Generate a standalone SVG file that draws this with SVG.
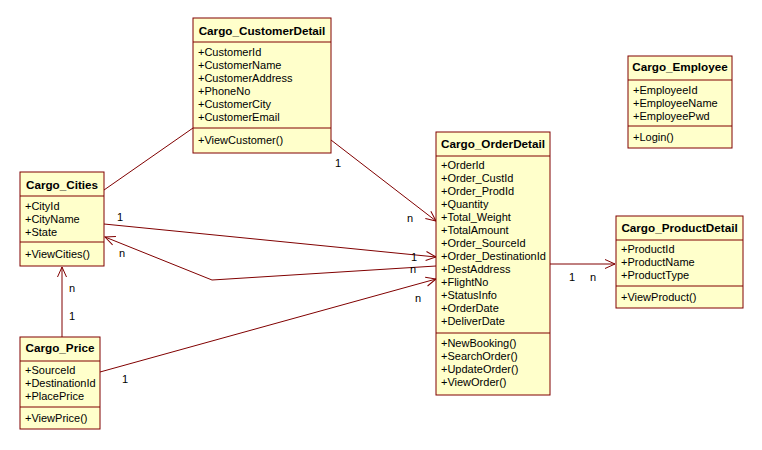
<svg xmlns="http://www.w3.org/2000/svg" width="762" height="450" viewBox="0 0 762 450">
<defs>
<style>
.box{fill:#FFFFCB;stroke:#800000;stroke-width:1}
.sep{stroke:#800000;stroke-width:1}
.t{font-family:"Liberation Sans",Arial,sans-serif;font-size:11.7px;font-weight:bold;fill:#000;text-anchor:middle}
.a{font-family:"Liberation Sans",Arial,sans-serif;font-size:11px;fill:#000}
.c{stroke:#800000;stroke-width:1;fill:none}
.l{font-family:"Liberation Sans",Arial,sans-serif;font-size:11px;fill:#000}
</style>
<marker id="arr" markerUnits="userSpaceOnUse" markerWidth="12" markerHeight="10" refX="10" refY="4.5" orient="auto" overflow="visible">
<path d="M0,0 L10,4.5 L0,9" fill="none" stroke="#800000" stroke-width="1"/>
</marker>
</defs>
<rect width="762" height="450" fill="#fff"/>

<g id="connectors">
<line class="c" x1="331" y1="140" x2="436" y2="221" marker-end="url(#arr)"/>
<line class="c" x1="104" y1="224" x2="436" y2="257" marker-end="url(#arr)"/>
<polyline class="c" points="436,266 212,280 105,237" marker-end="url(#arr)"/>
<line class="c" x1="100" y1="372" x2="436" y2="279" marker-end="url(#arr)"/>
<line class="c" x1="62" y1="337" x2="62" y2="267" marker-end="url(#arr)"/>
<line class="c" x1="104" y1="190" x2="193" y2="128"/>
<line class="c" x1="550" y1="264" x2="615" y2="264" marker-end="url(#arr)"/>
<text class="l" x="335" y="167">1</text>
<text class="l" x="407" y="222">n</text>
<text class="l" x="117" y="221">1</text>
<text class="l" x="411" y="261">1</text>
<text class="l" x="410" y="273">n</text>
<text class="l" x="119" y="257">n</text>
<text class="l" x="415" y="302">n</text>
<text class="l" x="122" y="383">1</text>
<text class="l" x="69" y="292">n</text>
<text class="l" x="69" y="320">1</text>
<text class="l" x="569" y="281">1</text>
<text class="l" x="590" y="281">n</text>
</g>

<g id="Cargo_CustomerDetail">
<rect class="box" x="193" y="18" width="138" height="135"/>
<line class="sep" x1="193" y1="42" x2="331" y2="42"/>
<line class="sep" x1="193" y1="128" x2="331" y2="128"/>
<text class="t" x="262" y="35">Cargo_CustomerDetail</text>
<text class="a" x="198" y="56">+CustomerId</text>
<text class="a" x="198" y="69">+CustomerName</text>
<text class="a" x="198" y="82">+CustomerAddress</text>
<text class="a" x="198" y="95">+PhoneNo</text>
<text class="a" x="198" y="108">+CustomerCity</text>
<text class="a" x="198" y="121">+CustomerEmail</text>
<text class="a" x="198" y="144">+ViewCustomer()</text>
</g>

<g id="Cargo_Employee">
<rect class="box" x="628" y="56" width="104" height="92"/>
<line class="sep" x1="628" y1="80" x2="732" y2="80"/>
<line class="sep" x1="628" y1="126" x2="732" y2="126"/>
<text class="t" x="680" y="71">Cargo_Employee</text>
<text class="a" x="633" y="94">+EmployeeId</text>
<text class="a" x="633" y="107">+EmployeeName</text>
<text class="a" x="633" y="120">+EmployeePwd</text>
<text class="a" x="633" y="141">+Login()</text>
</g>

<g id="Cargo_Cities">
<rect class="box" x="20" y="172" width="84" height="94"/>
<line class="sep" x1="20" y1="196" x2="104" y2="196"/>
<line class="sep" x1="20" y1="242" x2="104" y2="242"/>
<text class="t" x="62" y="189">Cargo_Cities</text>
<text class="a" x="25" y="210">+CityId</text>
<text class="a" x="25" y="223">+CityName</text>
<text class="a" x="25" y="236">+State</text>
<text class="a" x="25" y="258">+ViewCities()</text>
</g>

<g id="Cargo_Price">
<rect class="box" x="20" y="337" width="80" height="92"/>
<line class="sep" x1="20" y1="361" x2="100" y2="361"/>
<line class="sep" x1="20" y1="407" x2="100" y2="407"/>
<text class="t" x="60" y="352">Cargo_Price</text>
<text class="a" x="25" y="374">+SourceId</text>
<text class="a" x="25" y="387">+DestinationId</text>
<text class="a" x="25" y="400">+PlacePrice</text>
<text class="a" x="25" y="422">+ViewPrice()</text>
</g>

<g id="Cargo_OrderDetail">
<rect class="box" x="436" y="132" width="114" height="263"/>
<line class="sep" x1="436" y1="156" x2="550" y2="156"/>
<line class="sep" x1="436" y1="333" x2="550" y2="333"/>
<text class="t" x="493" y="148">Cargo_OrderDetail</text>
<text class="a" x="441" y="169">+OrderId</text>
<text class="a" x="441" y="182">+Order_CustId</text>
<text class="a" x="441" y="195">+Order_ProdId</text>
<text class="a" x="441" y="208">+Quantity</text>
<text class="a" x="441" y="221">+Total_Weight</text>
<text class="a" x="441" y="234">+TotalAmount</text>
<text class="a" x="441" y="247">+Order_SourceId</text>
<text class="a" x="441" y="260">+Order_DestinationId</text>
<text class="a" x="441" y="273">+DestAddress</text>
<text class="a" x="441" y="286">+FlightNo</text>
<text class="a" x="441" y="299">+StatusInfo</text>
<text class="a" x="441" y="312">+OrderDate</text>
<text class="a" x="441" y="325">+DeliverDate</text>
<text class="a" x="441" y="347">+NewBooking()</text>
<text class="a" x="441" y="360">+SearchOrder()</text>
<text class="a" x="441" y="373">+UpdateOrder()</text>
<text class="a" x="441" y="386">+ViewOrder()</text>
</g>

<g id="Cargo_ProductDetail">
<rect class="box" x="616" y="216" width="127" height="92"/>
<line class="sep" x1="616" y1="240" x2="743" y2="240"/>
<line class="sep" x1="616" y1="286" x2="743" y2="286"/>
<text class="t" x="679.5" y="232">Cargo_ProductDetail</text>
<text class="a" x="621" y="253">+ProductId</text>
<text class="a" x="621" y="266">+ProductName</text>
<text class="a" x="621" y="279">+ProductType</text>
<text class="a" x="621" y="301">+ViewProduct()</text>
</g>
</svg>
